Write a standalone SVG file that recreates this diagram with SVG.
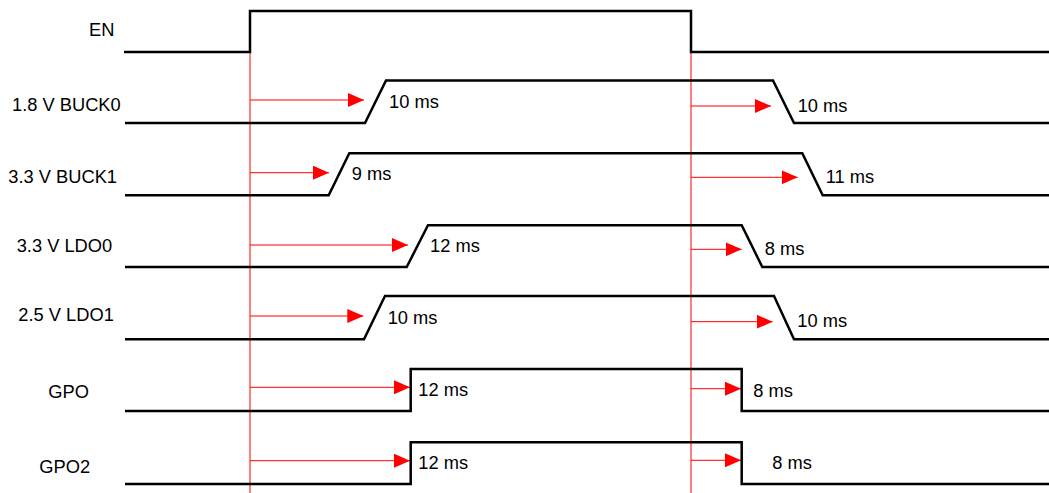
<svg xmlns="http://www.w3.org/2000/svg" width="1049" height="493" viewBox="0 0 1049 493">
<style>
.sig{fill:none;stroke:#000;stroke-width:2.5;stroke-linejoin:miter}
.lbl{font-family:"Liberation Sans",Arial,sans-serif;font-size:18.3px;fill:#000}
.ref{stroke:#ff0000;stroke-width:1;fill:none}
.arr{stroke:#ff0000;stroke-width:1;fill:none;marker-end:url(#ah)}
</style>
<defs>
<marker id="ah" markerUnits="userSpaceOnUse" markerWidth="16" markerHeight="14" refX="16" refY="7" orient="auto">
<path d="M0,0 L16,7 L0,14 Z" fill="#ff0000"/>
</marker>
</defs>
<rect width="1049" height="493" fill="#fff"/>
<g id="connectors">
<line class="ref" x1="250" y1="52" x2="250" y2="493"/>
<line class="ref" x1="691" y1="52" x2="691" y2="493"/>
<line class="arr" x1="250" y1="100" x2="364" y2="100"/>
<line class="arr" x1="691" y1="106" x2="771" y2="106"/>
<line class="arr" x1="250" y1="172.7" x2="329" y2="172.7"/>
<line class="arr" x1="691" y1="177.3" x2="797.7" y2="177.3"/>
<line class="arr" x1="250" y1="245" x2="408" y2="245"/>
<line class="arr" x1="691" y1="249.3" x2="741.7" y2="249.3"/>
<line class="arr" x1="250" y1="316" x2="363.3" y2="316"/>
<line class="arr" x1="691" y1="321.7" x2="772.7" y2="321.7"/>
<line class="arr" x1="250" y1="387.3" x2="410" y2="387.3"/>
<line class="arr" x1="691" y1="388.7" x2="741" y2="388.7"/>
<line class="arr" x1="250" y1="460.7" x2="410" y2="460.7"/>
<line class="arr" x1="691" y1="460.3" x2="741" y2="460.3"/>
</g>
<g id="en">
<text class="lbl" x="89" y="36">EN</text>
<polyline class="sig" points="124,52 250,52 250,11 691,11 691,52 1049,52"/>
</g>
<g id="buck0">
<text class="lbl" x="12" y="110.5">1.8 V BUCK0</text>
<polyline class="sig" points="125,123 365,123 386,80.5 773,80.5 794,123 1049,123"/>
<text class="lbl" x="389" y="108.3">10 ms</text>
<text class="lbl" x="797.7" y="111.7">10 ms</text>
</g>
<g id="buck1">
<text class="lbl" x="8.3" y="183.3">3.3 V BUCK1</text>
<polyline class="sig" points="125,195.3 328.7,195.3 349.3,153.3 802.3,153.3 822.7,195.3 1049,195.3"/>
<text class="lbl" x="351.7" y="180">9 ms</text>
<text class="lbl" x="825.7" y="183.3">11 ms</text>
</g>
<g id="ldo0">
<text class="lbl" x="16.7" y="251.7">3.3 V LDO0</text>
<polyline class="sig" points="125,267 406.7,267 428,225.3 741.7,225.3 762.3,267 1049,267"/>
<text class="lbl" x="430" y="252">12 ms</text>
<text class="lbl" x="764.7" y="255">8 ms</text>
</g>
<g id="ldo1">
<text class="lbl" x="18.3" y="321">2.5 V LDO1</text>
<polyline class="sig" points="125,339.3 364,339.3 385,296 774,296 794,339.3 1049,339.3"/>
<text class="lbl" x="387.7" y="324.3">10 ms</text>
<text class="lbl" x="797.3" y="327.3">10 ms</text>
</g>
<g id="gpo">
<text class="lbl" x="48.3" y="398.3">GPO</text>
<polyline class="sig" points="125,411 410.7,411 410.7,369 741.7,369 741.7,411 1049,411"/>
<text class="lbl" x="418.3" y="395.7">12 ms</text>
<text class="lbl" x="753.3" y="396.7">8 ms</text>
</g>
<g id="gpo2">
<text class="lbl" x="39.3" y="472.7">GPO2</text>
<polyline class="sig" points="125,484 410.7,484 410.7,442.3 741.7,442.3 741.7,484 1049,484"/>
<text class="lbl" x="418.3" y="469">12 ms</text>
<text class="lbl" x="772.3" y="468.7">8 ms</text>
</g>
</svg>
